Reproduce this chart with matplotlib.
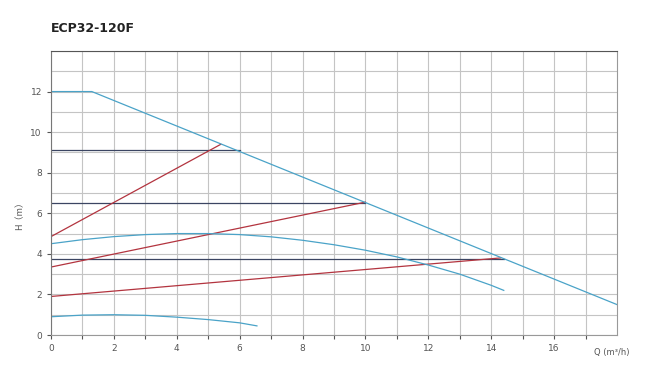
"""Pump performance chart for ECP32-120F."""

import matplotlib as mpl

mpl.use("Agg")
import matplotlib.pyplot as plt
import numpy as np

# max curve (blue)
max_q = [0.0, 1.3, 18.0]
max_h = [12.0, 12.0, 1.5]

# mid speed curve (blue)
mid_q = [0, 1, 2, 3, 4, 5, 6, 7, 8, 9, 10, 11, 12, 13, 14, 14.4]
mid_h = [4.5, 4.7, 4.85, 4.95, 5.0, 5.0, 4.95, 4.84, 4.67, 4.45, 4.18, 3.85, 3.45, 3.0, 2.45, 2.2]

# low speed curve (blue)
low_q = [0, 1, 2, 3, 4, 5, 6, 6.55]
low_h = [0.9, 0.98, 1.0, 0.97, 0.88, 0.76, 0.6, 0.45]

# constant head lines (dark)
const_h = [9.1, 6.5, 3.75]
const_qmax = [6.0, 10.0, 14.4]

# proportional pressure lines (red)
prop_start_h = [4.85, 3.35, 1.9]
prop_end = [(5.4, 9.4), (10.0, 6.55), (14.3, 3.8)]

BLUE = "#4aa3c8"
RED = "#b3343f"
NAVY = "#3b4562"
GRID = "#c4c4c4"
TXT = "#555555"

fig = plt.figure(figsize=(6.56, 3.8), dpi=100)
ax = fig.add_axes([0.0777, 0.1184, 0.8628, 0.7474])

ax.set_xlim(0, 18)
ax.set_ylim(0, 14)
ax.set_xticks(np.arange(0, 18, 1))
ax.set_xticklabels([str(v) if v % 2 == 0 else "" for v in range(0, 18)])
ax.set_yticks(np.arange(0, 14, 2))
ax.set_yticks(np.arange(0, 15, 1), minor=True)
ax.tick_params(axis="y", which="minor", length=0)
ax.tick_params(axis="both", labelsize=6.5, colors=TXT, length=3, width=0.8)
ax.grid(True, which="both", color=GRID, linewidth=0.8)
ax.set_axisbelow(True)
ax.spines["left"].set_color("#777777")
ax.spines["bottom"].set_color("#999999")
ax.spines["right"].set_color("#999999")
ax.spines["top"].set_color("#555555")

for h, qm in zip(const_h, const_qmax):
    ax.plot([0, qm], [h, h], color=NAVY, lw=0.9)

for h0, (qe, he) in zip(prop_start_h, prop_end):
    ax.plot([0, qe], [h0, he], color=RED, lw=0.9)

ax.plot(max_q, max_h, color=BLUE, lw=0.9)
ax.plot(mid_q, mid_h, color=BLUE, lw=0.9)
ax.plot(low_q, low_h, color=BLUE, lw=0.9)

fig.text(0.078, 0.915, "ECP32-120F", fontsize=9, fontweight="bold", color="#222222")
fig.text(0.03, 0.437, "H（m）", rotation=90, fontsize=6.5, color=TXT,
         ha="center", va="center", family=["Noto Sans CJK SC", "DejaVu Sans"])
fig.text(0.905, 0.065, "Q (m³/h)", fontsize=6, color=TXT)

fig.savefig("out.png", dpi=100)
